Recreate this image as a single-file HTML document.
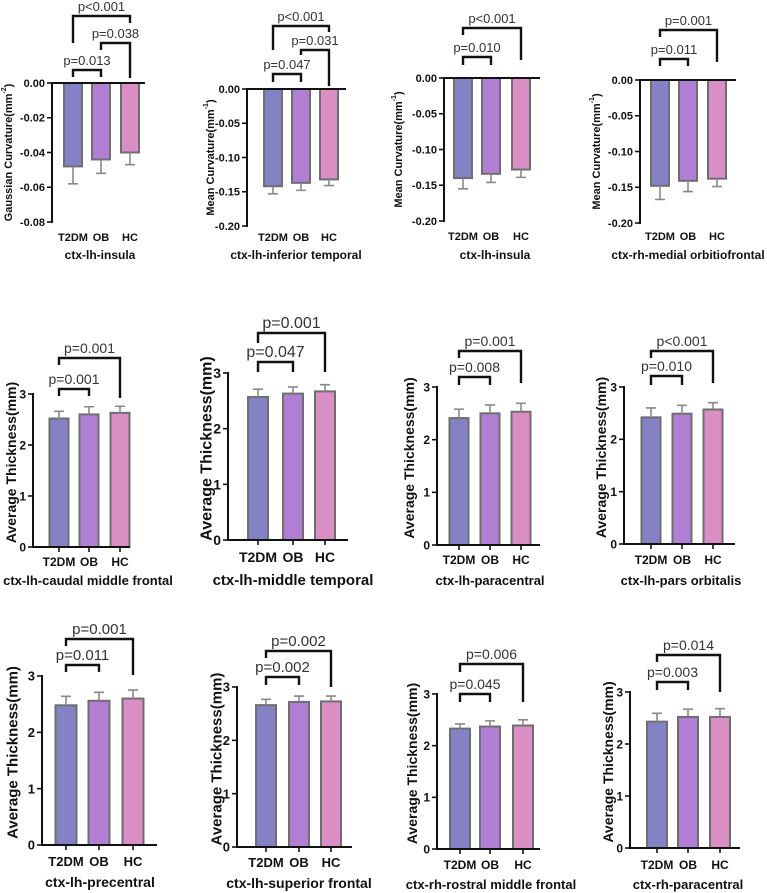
<!DOCTYPE html>
<html><head><meta charset="utf-8"><style>
html,body{margin:0;padding:0;background:#fff;}
svg{display:block;font-family:"Liberation Sans",Arial,sans-serif;}
</style></head><body>
<svg id="fig" width="767" height="893" viewBox="0 0 767 893"></svg>
<script>
const categories = ["T2DM","OB","HC"];
const colors = ["#8482c4","#b07fd4","#d98fc4"];
const titles = ["ctx-lh-insula","ctx-lh-inferior temporal","ctx-lh-insula","ctx-rh-medial orbitiofrontal",
"ctx-lh-caudal middle frontal","ctx-lh-middle temporal","ctx-lh-paracentral","ctx-lh-pars orbitalis",
"ctx-lh-precentral","ctx-lh-superior frontal","ctx-rh-rostral middle frontal","ctx-rh-paracentral"];
const means1=[-0.048,-0.044,-0.040], errs1=[0.010,0.008,0.007];
const means2=[-0.142,-0.137,-0.132], errs2=[0.011,0.011,0.009];
const means3=[-0.140,-0.134,-0.128], errs3=[0.015,0.012,0.011];
const means4=[-0.148,-0.141,-0.138], errs4=[0.019,0.015,0.011];
const means5=[2.52,2.60,2.63], errs5=[0.14,0.15,0.13];
const means6=[2.57,2.63,2.67], errs6=[0.14,0.12,0.12];
const means7=[2.41,2.50,2.53], errs7=[0.17,0.16,0.16];
const means8=[2.42,2.49,2.57], errs8=[0.18,0.16,0.13];
const means9=[2.48,2.56,2.60], errs9=[0.16,0.15,0.15];
const means10=[2.66,2.72,2.73], errs10=[0.11,0.11,0.10];
const means11=[2.33,2.37,2.39], errs11=[0.09,0.11,0.11];
const means12=[2.43,2.52,2.52], errs12=[0.16,0.15,0.16];
const ticksGauss=[0,-0.02,-0.04,-0.06,-0.08];
const tickLabelsGauss=["0.00","-0.02","-0.04","-0.06","-0.08"];
const ticksMean=[0,-0.05,-0.10,-0.15,-0.20];
const tickLabelsMean=["0.00","-0.05","-0.10","-0.15","-0.20"];
const ticksThick=[0,1,2,3];
const tickLabelsThick=["0","1","2","3"];
const pLabels1=["p=0.013","p=0.038","p<0.001"];
const pLabels2=["p=0.047","p=0.031","p<0.001"];
const pLabels3=["p=0.010","p<0.001"];
const pLabels4=["p=0.011","p=0.001"];
const pLabels5=["p=0.001","p=0.001"];
const pLabels6=["p=0.047","p=0.001"];
const pLabels7=["p=0.008","p=0.001"];
const pLabels8=["p=0.010","p<0.001"];
const pLabels9=["p=0.011","p=0.001"];
const pLabels10=["p=0.002","p=0.002"];
const pLabels11=["p=0.045","p=0.006"];
const pLabels12=["p=0.003","p=0.014"];

const allMeans=[means1,means2,means3,means4,means5,means6,means7,means8,means9,means10,means11,means12];
const allErrs=[errs1,errs2,errs3,errs4,errs5,errs6,errs7,errs8,errs9,errs10,errs11,errs12];
const allP=[pLabels1,pLabels2,pLabels3,pLabels4,pLabels5,pLabels6,pLabels7,pLabels8,pLabels9,pLabels10,pLabels11,pLabels12];

const layout=[
{ax:52,xe:145,top:83,bot:222,cx:[73,101,130],bw:18,kind:"g",ylx:9,laby:241,ty:259,tcx:100,br:[[0,1,70,77],[1,2,43,50,78],[0,2,16,43,23]],fs:11},
{ax:247,xe:346,top:89,bot:226,cx:[273,301,329],bw:18,kind:"m",ylx:211,laby:241,ty:259,tcx:296,br:[[0,1,74,82],[1,2,50,55,86],[0,2,26,50,32]],fs:11},
{ax:444,xe:540,top:78,bot:221,cx:[463,491,521],bw:18,kind:"m",ylx:399,laby:240,ty:259,tcx:495,br:[[0,1,57,65],[0,2,28,35,60]],fs:11},
{ax:640,xe:736,top:80,bot:223,cx:[660,688,717],bw:18,kind:"m",ylx:597,laby:240,ty:259,tcx:688,br:[[0,1,59,66],[0,2,30,37,62]],fs:11},
{ax:33,xe:130,top:394,bot:547,cx:[59,89,120],bw:19,kind:"t",ylx:11,laby:566,ty:585,tcx:88,br:[[0,1,389,396],[0,2,358,365,398]],fs:12},
{ax:228,xe:348,top:373,bot:540,cx:[258,293,325],bw:20,kind:"t",ylx:207,laby:562,ty:585,tcx:293,br:[[0,1,362,372],[0,2,333,343,372]],fs:14},
{ax:437,xe:540,top:387,bot:545,cx:[459,490,521],bw:19,kind:"t",ylx:409,laby:564,ty:585,tcx:490,br:[[0,1,377,385],[0,2,351,358,383]],fs:12},
{ax:624,xe:735,top:387,bot:544,cx:[651,682,713],bw:19,kind:"t",ylx:601,laby:564,ty:585,tcx:681,br:[[0,1,376,385],[0,2,351,358,383]],fs:12},
{ax:42,xe:157,top:676,bot:845,cx:[66,99,133],bw:21,kind:"t",ylx:13,laby:866,ty:887,tcx:100,br:[[0,1,665,672],[0,2,639,646,675]],fs:13},
{ax:237,xe:352,top:687,bot:847,cx:[266,299,331],bw:20,kind:"t",ylx:217,laby:867,ty:888,tcx:299,br:[[0,1,677,685],[0,2,651,658,687]],fs:13},
{ax:437,xe:540,top:694,bot:849,cx:[460,490,523],bw:20,kind:"t",ylx:412,laby:869,ty:889,tcx:491,br:[[0,1,694,702],[0,2,664,672,702]],fs:12},
{ax:630,xe:740,top:692,bot:848,cx:[657,688,720],bw:20,kind:"t",ylx:608,laby:869,ty:889,tcx:688,br:[[0,1,682,690],[0,2,655,662,692]],fs:12}
];

const NS="http://www.w3.org/2000/svg";
const svg=document.getElementById("fig");
function mk(tag,attrs,parent,text){
  const e=document.createElementNS(NS,tag);
  for(const k in attrs) e.setAttribute(k,attrs[k]);
  if(text!==undefined) e.textContent=text;
  (parent||svg).appendChild(e);
  return e;
}

layout.forEach((L,pi)=>{
  const g=mk("g",{});
  
  
  let ticks,tl,ylab,sup;
  if(L.kind==="g"){ticks=ticksGauss;tl=tickLabelsGauss;ylab="Gaussian Curvature(mm";sup="-2";}
  else if(L.kind==="m"){ticks=ticksMean;tl=tickLabelsMean;ylab="Mean Curvature(mm";sup="-1";}
  else {ticks=ticksThick;tl=tickLabelsThick;ylab="Average Thickness(mm)";sup=null;}
  const t0=Math.max(ticks[0],ticks[ticks.length-1]);
  const t1=Math.min(ticks[0],ticks[ticks.length-1]);
  const y=v=>L.top+(t0-v)/(t0-t1)*(L.bot-L.top);
  const y0=y(0);
  const isNeg=L.kind!=="t";
  const fs=L.fs;
  const means=allMeans[pi], errs=allErrs[pi];
  means.forEach((m,i)=>{
    const yt=Math.min(y(m),y0), yb=Math.max(y(m),y0);
    const r=mk("rect",{x:L.cx[i]-L.bw/2,y:yt,width:L.bw,height:yb-yt,fill:colors[i],stroke:"#6e6e6e","stroke-width":2},g);
    
    
    const ye=isNeg?y(m-errs[i]):y(m+errs[i]);
    const eb=mk("path",{d:`M${L.cx[i]},${y(m)}V${ye}M${L.cx[i]-5},${ye}H${L.cx[i]+5}`,stroke:"#8a8a8a","stroke-width":1.6,fill:"none"},g);
    
    
  });
  const ya=mk("line",{x1:L.ax,y1:L.top-1,x2:L.ax,y2:L.bot+1,stroke:"#111","stroke-width":2},g);
  
  
  const xa=mk("line",{x1:L.ax-1,y1:y0,x2:L.xe,y2:y0,stroke:"#111","stroke-width":2},g);
  
  
  ticks.forEach((t,i)=>{
    mk("line",{x1:L.ax-5,y1:y(t),x2:L.ax,y2:y(t),stroke:"#111","stroke-width":1.6},g);
    const tx=mk("text",{x:L.ax-7,y:y(t)+fs*0.36,"text-anchor":"end","font-size":fs,"font-weight":"bold",fill:"#111"},g,tl[i]);
    
    
  });
  if(!isNeg){
    L.cx.forEach(c=>mk("line",{x1:c,y1:y0,x2:c,y2:y0+5,stroke:"#111","stroke-width":1.6},g));
  }
  categories.forEach((c,i)=>{
    const tx=mk("text",{x:L.cx[i],y:L.laby,"text-anchor":"middle","font-size":fs,"font-weight":"bold",fill:"#111"},g,c);
    
    
  });
  const tt=mk("text",{x:L.tcx,y:L.ty,"text-anchor":"middle","font-size":fs+1,"font-weight":"bold",fill:"#111"},g,titles[pi]);
  
  
  const cy=(L.top+L.bot)/2 + (isNeg?0:-8);
  const yl=mk("text",{x:L.ylx,y:cy,transform:`rotate(-90 ${L.ylx} ${cy})`,"text-anchor":"middle","dominant-baseline":"central","font-size":isNeg?fs:fs+2,"font-weight":"bold",fill:"#111"},g,ylab);
  if(sup){
    mk("tspan",{"font-size":fs-4,dy:-5},yl,sup);
    mk("tspan",{dy:5},yl,")");
  }
  
  
  L.br.forEach((b,k)=>{
    const [i,j,by,ly,ry0]=b; const ry=ry0===undefined?ly:ry0;
    const x1=L.cx[i],x2=L.cx[j];
    const p=mk("path",{d:`M${x1},${ly}V${by}H${x2}V${ry}`,stroke:"#111","stroke-width":2.4,fill:"none"},g);
    
    
    const pt=mk("text",{x:(x1+x2)/2,y:by-5,"text-anchor":"middle","font-size":fs+2,fill:"#333"},g,allP[pi][k]);
    
    
  });
});
</script>
</body></html>
